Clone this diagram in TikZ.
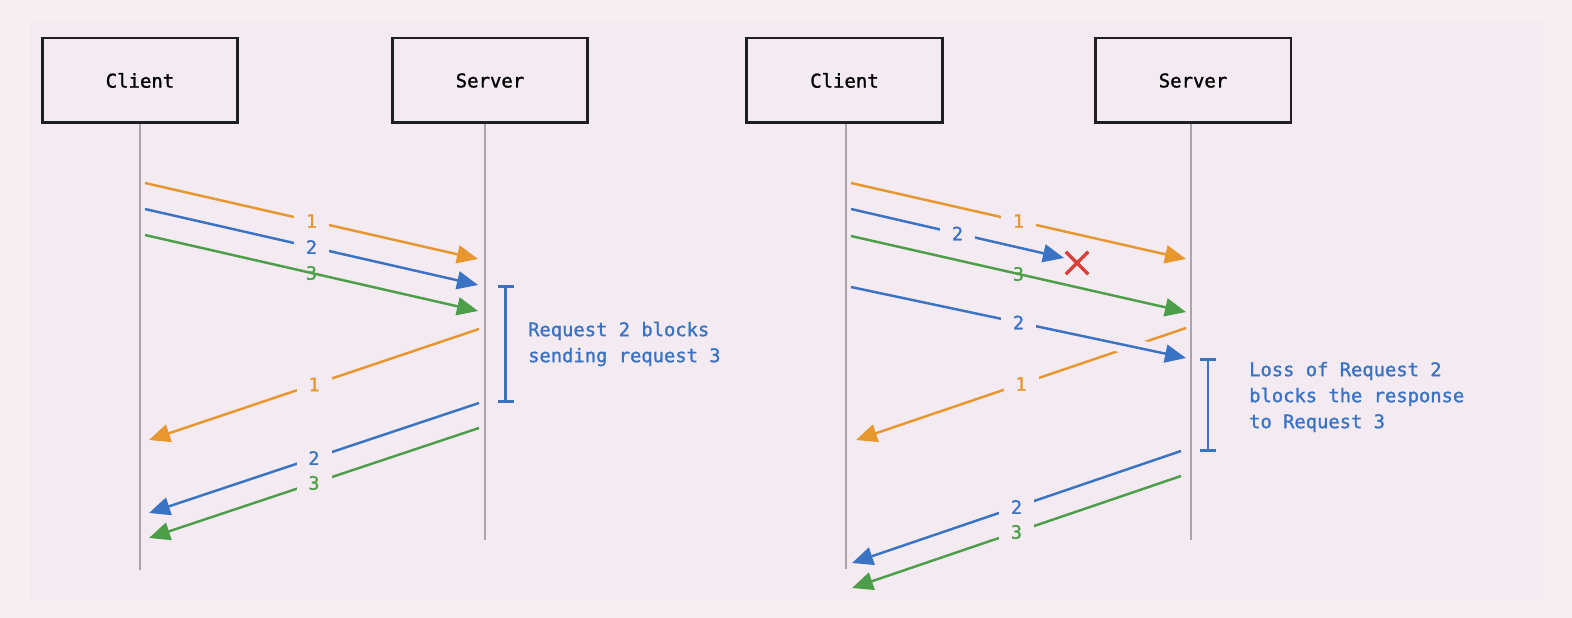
\documentclass[tikz,border=0pt]{standalone}
\usepackage{fontspec}
\newfontfamily\monofont[FakeBold=1.3]{DejaVu Sans Mono}
\usepackage{xcolor}
\definecolor{bg}{HTML}{F3EBF1}
\definecolor{bgouter}{HTML}{F6EEF1}
\definecolor{req1}{HTML}{E8962E}
\definecolor{req2}{HTML}{3A73C4}
\definecolor{req3}{HTML}{4C9F48}
\definecolor{lossred}{HTML}{D9403A}
\definecolor{lifegray}{HTML}{A9A5A8}
\usepackage{tikz}
\usetikzlibrary{calc,positioning,arrows.meta,shapes.misc}

\begin{document}
\begin{tikzpicture}[x=0.02cm, y=-0.02cm,
    actor/.style={draw=black!88, line width=1.7pt, minimum width=3.92cm, minimum height=1.7cm, font=\monofont\fontsize{10.8}{12}\selectfont},
    life/.style={draw=lifegray, line width=0.6pt},
    msg/.style={-{Triangle[length=0.42cm, width=0.36cm]}, line width=1.4pt},
    num/.style={fill=bg, minimum width=0.7cm, inner sep=1pt, font=\monofont\fontsize{10.5}{12}\selectfont},
    numover/.style={inner sep=0pt, font=\monofont\fontsize{10.5}{12}\selectfont},
    span/.style={{Bar[width=0.32cm]}-{Bar[width=0.32cm]}, line width=1.6pt, draw=req2},
    note/.style={text=req2, align=left, anchor=west, font=\monofont\fontsize{10.7}{14.8}\selectfont},
    lost/.style={cross out, draw=lossred, line width=2pt, minimum size=0.38cm, inner sep=0pt}
]
  % Background
  \path[use as bounding box, fill=bgouter] (0,0) rectangle (1572,618);
  \fill[bg] (30,22) rectangle (1545,600);

  % Left: head-of-line blocking when sending
  \node[actor] (cl) at (140,80.5) {Client};
  \node[actor] (sl) at (490,80.5) {Server};
  \coordinate (cle) at (140,570);
  \coordinate (sle) at (485,540);
  \draw[life] (cl.south -| cle) -- (cle);
  \draw[life] (sl.south -| sle) -- (sle);

  \coordinate (la1) at (145,183);  \coordinate (lb1) at (478,259);
  \coordinate (la2) at (145,209);  \coordinate (lb2) at (478,285);
  \coordinate (la3) at (145,235);  \coordinate (lb3) at (478,311);
  \coordinate (lc1) at (479,329);  \coordinate (ld1) at (149,440);
  \coordinate (lc2) at (479,403);  \coordinate (ld2) at (149,513);
  \coordinate (lc3) at (479,428);  \coordinate (ld3) at (149,538);

  \draw[msg, req1] (la1) -- (lb1) node[midway, num, text=req1] {1};
  \draw[msg, req2] (la2) -- (lb2) node[midway, num, text=req2] {2};
  \draw[msg, req3] (la3) -- (lb3) node[midway, numover, text=req3] {3};
  \draw[msg, req1] (lc1) -- (ld1) node[midway, num, text=req1] {1};
  \draw[msg, req2] (lc2) -- (ld2) node[midway, num, text=req2] {2};
  \draw[msg, req3] (lc3) -- (ld3) node[midway, num, text=req3] {3};

  \coordinate (lsa) at (505.5,285);
  \coordinate (lsb) at (505.5,403);
  \draw[span] (lsa) -- (lsb);
  \node[note] (lnote) at (522,344) {Request 2 blocks\\sending request 3};

  % Right: loss of request 2
  \node[actor] (cr) at (844.5,80.5) {Client};
  \node[actor] (sr) at (1193,80.5) {Server};
  \coordinate (cre) at (846,569);
  \coordinate (sre) at (1191,540);
  \draw[life] (cr.south -| cre) -- (cre);
  \draw[life] (sr.south -| sre) -- (sre);

  \coordinate (ra1) at (851,183);   \coordinate (rb1) at (1186,259);
  \coordinate (ra2) at (851,209);   \coordinate (rb2) at (1064,258);
  \coordinate (ra3) at (851,236);   \coordinate (rb3) at (1186,312);
  \coordinate (ra4) at (851,287);   \coordinate (rb4) at (1186,358);
  \coordinate (rc1) at (1186,328);  \coordinate (rd1) at (856,440);
  \coordinate (rc2) at (1181,451);  \coordinate (rd2) at (852,563);
  \coordinate (rc3) at (1181,476);  \coordinate (rd3) at (852,588);

  \draw[msg, req1] (ra1) -- (rb1) node[midway, num, text=req1] {1};
  \draw[msg, req2] (ra2) -- (rb2) node[midway, num, text=req2] {2};
  \node[lost] (x2) at (1077,263) {};
  \draw[msg, req3] (ra3) -- (rb3) node[midway, numover, text=req3] {3};
  \draw[msg, req1] (rc1) -- (rd1) node[midway, num, text=req1] {1};
  % gap where the resent request crosses
  \draw[bg, line width=0.32cm] ($(ra4)!0.78!(rb4)$) -- ($(ra4)!0.9!(rb4)$);
  \draw[msg, req2] (ra4) -- (rb4) node[midway, num, text=req2] {2};
  \draw[msg, req2] (rc2) -- (rd2) node[midway, num, text=req2] {2};
  \draw[msg, req3] (rc3) -- (rd3) node[midway, num, text=req3] {3};

  \coordinate (rsa) at (1208,358);
  \coordinate (rsb) at (1208,452);
  \draw[span] (rsa) -- (rsb);
  \node[note] (rnote) at (1243,397) {Loss of Request 2\\blocks the response\\to Request 3};
\end{tikzpicture}
\end{document}
